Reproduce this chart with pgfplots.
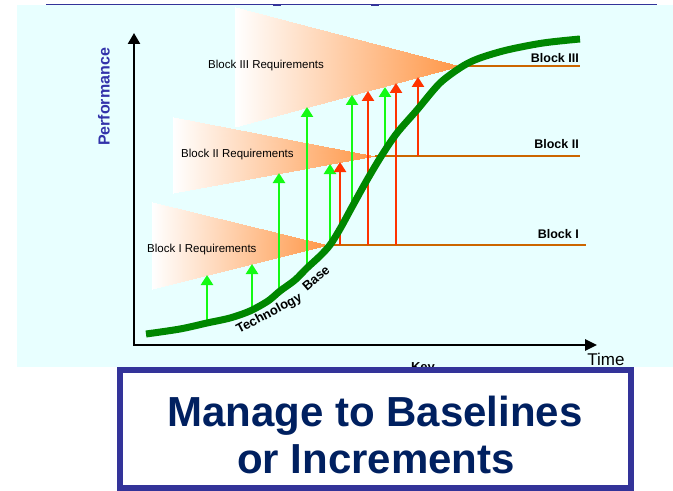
\documentclass[border=0pt]{standalone}
\usepackage{pgfplots}
\pgfplotsset{compat=1.18}
\usepackage{fontspec}
\setmainfont{Liberation Sans}
\usetikzlibrary{arrows.meta}

\definecolor{cyanbg}{RGB}{232,255,255}
\definecolor{boxblue}{RGB}{51,51,153}
\definecolor{navy}{RGB}{0,32,96}
\definecolor{perfblue}{RGB}{51,51,170}
\definecolor{blockline}{RGB}{204,102,0}
\definecolor{redarrow}{RGB}{255,51,0}
\definecolor{greenarrow}{RGB}{20,250,20}
\definecolor{techgreen}{RGB}{0,135,0}

\begin{document}
\begin{tikzpicture}
\begin{axis}[
    width=673bp, height=491bp, scale only axis,
    xmin=0, xmax=673, ymin=0, ymax=491,
    y dir=reverse,
    hide axis,
    colormap={req}{rgb255(0)=(255,255,255) rgb255(1)=(255,150,70)},
    point meta min=0, point meta max=1,
    garrow/.style={greenarrow, line width=2.8bp, -{Triangle[width=12bp,length=10bp]}},
    rarrow/.style={redarrow, line width=2.8bp, -{Triangle[width=12bp,length=10bp]}},
    blk/.style={blockline, line width=2.2bp},
]
% backgrounds
\addplot[fill=white, draw=none] coordinates {(0,0) (673,0) (673,491) (0,491)};
\addplot[fill=cyanbg, draw=none] coordinates {(17,5) (673,5) (673,367) (17,367)};
\addplot[boxblue, line width=1.8bp] coordinates {(46,4.5) (657,4.5)};
\addplot[boxblue, line width=2bp] coordinates {(273,5.5) (281,5.5)};
\addplot[boxblue, line width=2bp] coordinates {(371,5.5) (379,5.5)};

% requirement cones
\addplot[patch, patch type=triangle, shader=interp, point meta=explicit]
    coordinates {(235,7) [0] (235,127) [0] (460,66) [1]};
\addplot[patch, patch type=triangle, shader=interp, point meta=explicit]
    coordinates {(173,117) [0] (173,193) [0] (375,156) [1]};
\addplot[patch, patch type=triangle, shader=interp, point meta=explicit]
    coordinates {(152,202) [0] (152,289) [0] (328,245) [1]};

% baselines
\addplot[blk] coordinates {(460,66) (580,66)};
\addplot[blk] coordinates {(375,156) (580,156)};
\addplot[blk] coordinates {(327,245) (586,245)};

% increments
\addplot[garrow] coordinates {(207,323) (207,275)};
\addplot[garrow] coordinates {(252,311) (252,264)};
\addplot[garrow] coordinates {(279,291) (279,173)};
\addplot[garrow] coordinates {(307,268) (307,107)};
\addplot[garrow] coordinates {(330,244) (330,164)};
\addplot[garrow, line width=2.2bp] coordinates {(352,206) (352,95)};
\addplot[garrow] coordinates {(385,148) (385,87)};
\addplot[rarrow] coordinates {(340,245) (340,162)};
\addplot[rarrow] coordinates {(368,245) (368,91)};
\addplot[rarrow] coordinates {(396,245) (396,83)};
\addplot[rarrow] coordinates {(418,156) (418,77)};

% technology base
\addplot[techgreen, line width=7bp, smooth] coordinates {
    (146,334) (180,329) (207,323) (230,318) (250,311) (268,301) (280,291)
    (295,280) (307,268) (320,256) (330,245) (340,229) (352,207) (367,180)
    (382,155) (397,133) (417,110) (440,83) (463,66) (480,58) (507,50)
    (543,43) (580,39)};

% axes
\addplot[black, line width=2.5bp, {Triangle[width=12bp,length=11bp]}-{Triangle[width=11bp,length=12bp]}]
    coordinates {(134,33) (134,345) (597,345)};

% labels
\node[font=\fontsize{11.5bp}{13bp}\selectfont, anchor=west, inner sep=0pt] at (axis cs:208,66) {Block III Requirements};
\node[font=\fontsize{11.5bp}{13bp}\selectfont, anchor=west, inner sep=0pt] at (axis cs:181,155) {Block II Requirements};
\node[font=\fontsize{11.5bp}{13bp}\selectfont, anchor=west, inner sep=0pt] at (axis cs:147,250) {Block I Requirements};
\node[font=\bfseries\fontsize{12.5bp}{14bp}\selectfont, anchor=east, inner sep=0pt] at (axis cs:579,58) {Block III};
\node[font=\bfseries\fontsize{12.5bp}{14bp}\selectfont, anchor=east, inner sep=0pt] at (axis cs:579,144) {Block II};
\node[font=\bfseries\fontsize{12.5bp}{14bp}\selectfont, anchor=east, inner sep=0pt] at (axis cs:579,234) {Block I};
\node[font=\bfseries\fontsize{13bp}{15bp}\selectfont, rotate=28, anchor=base west, inner sep=0pt] at (axis cs:239,334) {Technology};
\node[font=\bfseries\fontsize{13bp}{15bp}\selectfont, rotate=41, anchor=base west, inner sep=0pt] at (axis cs:307,292) {Base};
\node[font=\bfseries\fontsize{16bp}{18bp}\selectfont, text=perfblue, rotate=90, inner sep=0pt] at (axis cs:104,97) {Performance};
\node[font=\fontsize{17bp}{19bp}\selectfont, inner sep=0pt] at (axis cs:606,359) {Time};
\node[font=\bfseries\fontsize{13bp}{15bp}\selectfont, anchor=base, inner sep=0pt] at (axis cs:423,371) {Key};

% title box
\addplot[draw=boxblue, fill=white, line width=5.5bp, line join=miter]
    coordinates {(120,370) (631,370) (631,488) (120,488) (120,370) (631,370)};
\node[font=\bfseries\fontsize{42bp}{48bp}\selectfont, text=navy, anchor=base, inner sep=0pt] at (axis cs:375,426) {Manage to Baselines};
\node[font=\bfseries\fontsize{42bp}{48bp}\selectfont, text=navy, anchor=base, inner sep=0pt] at (axis cs:376,473) {or Increments};
\end{axis}
\end{tikzpicture}
\end{document}
